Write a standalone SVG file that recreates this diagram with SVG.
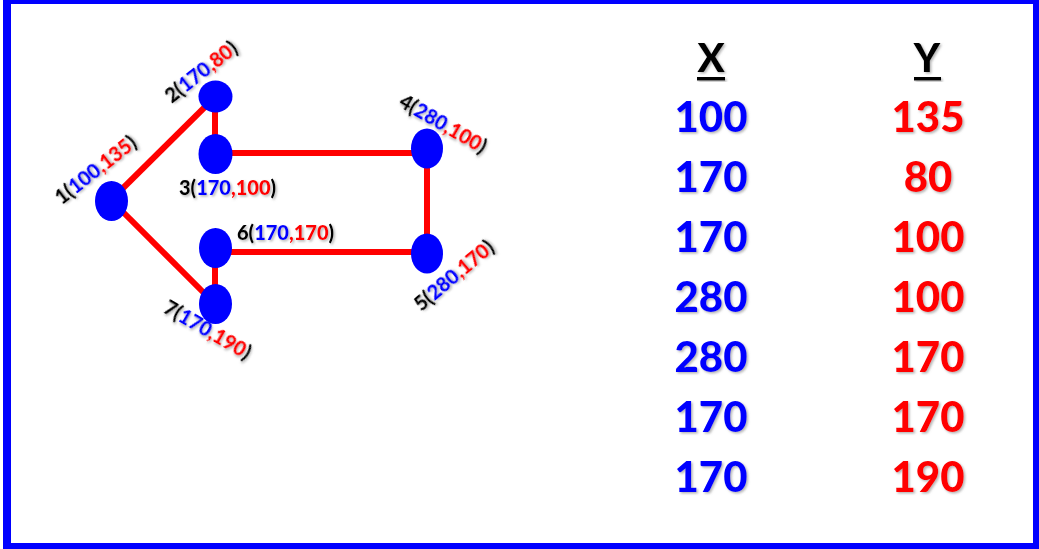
<svg xmlns="http://www.w3.org/2000/svg" width="1039" height="549" viewBox="0 0 1039 549">
<defs>
<filter id="sh" x="-10%" y="-20%" width="130%" height="150%">
<feDropShadow dx="1.5" dy="1.5" stdDeviation="0.8" flood-color="#777" flood-opacity="0.55"/>
</filter>
</defs>
<style>
.node{fill:#0000FF;}
.edge{stroke:#FF0000;stroke-width:6;fill:none;}
.lbl{font-family:Lato,"Liberation Sans",sans-serif;font-weight:900;font-size:20px;fill:#000;filter:url(#sh);}
.b{fill:#0000FF;}
.r{fill:#FF0000;}
.tab{font-family:Lato,"Liberation Sans",sans-serif;font-weight:900;font-size:42px;text-anchor:middle;filter:url(#sh);}
.hdr{font-family:Lato,"Liberation Sans",sans-serif;font-weight:900;font-size:40px;text-anchor:middle;fill:#000;filter:url(#sh);}
</style>
<rect x="3" y="0" width="1036" height="549" fill="#0000FF"/>
<rect x="11" y="4" width="1022" height="539" fill="#FFFFFF"/>
<g id="connectors">
<line class="edge" x1="111" y1="200" x2="215" y2="97"/>
<line class="edge" x1="215" y1="97" x2="215" y2="153"/>
<line class="edge" x1="215" y1="153" x2="427" y2="153"/>
<line class="edge" x1="427" y1="149" x2="427" y2="253"/>
<line class="edge" x1="427" y1="252" x2="215" y2="252"/>
<line class="edge" x1="215" y1="248" x2="215" y2="304"/>
<line class="edge" x1="111" y1="200" x2="215" y2="304"/>
</g>
<g id="node1">
<ellipse class="node" cx="111.5" cy="201" rx="16.5" ry="20"/>
<text class="lbl" text-anchor="middle" transform="translate(100,175.5) rotate(-38)">1(<tspan class="b">100</tspan><tspan class="r">,135</tspan>)</text>
</g>
<g id="node2">
<ellipse class="node" cx="215.5" cy="96.5" rx="17" ry="16"/>
<text class="lbl" text-anchor="middle" transform="translate(205.5,77.5) rotate(-38)">2(<tspan class="b">170</tspan><tspan class="r">,80</tspan>)</text>
</g>
<g id="node3">
<ellipse class="node" cx="215.5" cy="154" rx="17" ry="20"/>
<text class="lbl" x="179" y="195">3(<tspan class="b">170</tspan><tspan class="r">,100</tspan>)</text>
</g>
<g id="node4">
<ellipse class="node" cx="427" cy="148.5" rx="16" ry="20"/>
<text class="lbl" text-anchor="middle" transform="translate(439.5,130) rotate(30)">4(<tspan class="b">280</tspan><tspan class="r">,100</tspan>)</text>
</g>
<g id="node5">
<ellipse class="node" cx="427" cy="253.5" rx="16" ry="20"/>
<text class="lbl" text-anchor="middle" transform="translate(458.5,281) rotate(-40)">5(<tspan class="b">280</tspan><tspan class="r">,170</tspan>)</text>
</g>
<g id="node6">
<ellipse class="node" cx="215.5" cy="248" rx="16.5" ry="20"/>
<text class="lbl" x="237" y="240">6(<tspan class="b">170</tspan><tspan class="r">,170</tspan>)</text>
</g>
<g id="node7">
<ellipse class="node" cx="215.5" cy="304" rx="16.5" ry="20"/>
<text class="lbl" text-anchor="middle" transform="translate(204,336) rotate(30)">7(<tspan class="b">170</tspan><tspan class="r">,190</tspan>)</text>
</g>
<g id="table">
<text class="hdr" x="711" y="72">X</text>
<rect x="697" y="77" width="28" height="3.5" fill="#000" filter="url(#sh)"/>
<text class="hdr" x="927" y="72">Y</text>
<rect x="914" y="77" width="27" height="3.5" fill="#000" filter="url(#sh)"/>
<text class="tab b" x="711" y="132">100</text>
<text class="tab b" x="711" y="192">170</text>
<text class="tab b" x="711" y="252">170</text>
<text class="tab b" x="711" y="312">280</text>
<text class="tab b" x="711" y="372">280</text>
<text class="tab b" x="711" y="432">170</text>
<text class="tab b" x="711" y="492">170</text>
<text class="tab r" x="928" y="132">135</text>
<text class="tab r" x="928" y="192">80</text>
<text class="tab r" x="928" y="252">100</text>
<text class="tab r" x="928" y="312">100</text>
<text class="tab r" x="928" y="372">170</text>
<text class="tab r" x="928" y="432">170</text>
<text class="tab r" x="928" y="492">190</text>
</g>
</svg>
